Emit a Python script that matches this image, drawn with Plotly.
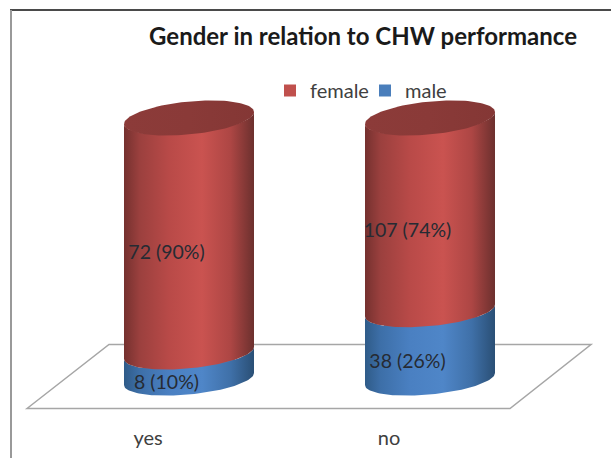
import numpy as np
import plotly.graph_objects as go

# Data
categories = ["yes", "no"]
female_counts = [72, 107]
male_counts = [8, 38]
series_names = ["female", "male"]

# Derived percentages
totals = [f + m for f, m in zip(female_counts, male_counts)]
female_pct = [100 * f / t for f, t in zip(female_counts, totals)]
male_pct = [100 * m / t for m, t in zip(male_counts, totals)]

# Layout constants
W, H = 611, 458
MB = 38
PX_PER_X = 241.0
PX_PER_Y = 2.61
ORIGIN_X = 189.0
ORIGIN_Y = 379.0
positions = [0, 1]
HALF_W = 65 / PX_PER_X
ELL_B = 15.5 / PX_PER_Y
ELL_TILT = 6 / PX_PER_Y
TICK_OFFSET = -41 / PX_PER_X
LABEL_X_OFFSET = -22.5 / PX_PER_X
LABEL_Y_OFFSET = -7


def dx(px):
    return (px - ORIGIN_X) / PX_PER_X


def dy(py):
    return (ORIGIN_Y - py) / PX_PER_Y


RED_GRAD = [[0, "#75312f"], [0.12, "#9b403e"], [0.35, "#b94a48"], [0.6, "#ca5350"],
            [0.82, "#ad4644"], [1, "#6c302e"]]
BLUE_GRAD = [[0, "#2f5b88"], [0.12, "#3d6fa8"], [0.35, "#4a80c2"], [0.6, "#4f86c8"],
             [0.82, "#3f70a8"], [1, "#2a4f75"]]
TOP_GRAD = [[0, "#8c3b39"], [0.5, "#8a3a38"], [1, "#843735"]]


def ellipse(cx, yc, n=120):
    t = np.linspace(0, 2 * np.pi, n)
    x = cx + HALF_W * np.cos(t)
    y = yc + (ELL_B + 1 / PX_PER_Y) * np.sin(t) + ELL_TILT * np.cos(t)
    return x, y


def arc(cx, yc, n=60):
    # front of the tilted ellipse, from left to right
    t = np.linspace(np.pi, 2 * np.pi, n)
    x = cx + HALF_W * np.cos(t)
    y = yc + ELL_B * np.sin(t) + ELL_TILT * np.cos(t)
    return x, y


def segment(cx, low, high, grad):
    xl, yl = arc(cx, low)
    xh, yh = arc(cx, high)
    xs = np.concatenate([xl, xh[::-1], xl[:1]])
    ys = np.concatenate([yl, yh[::-1], yl[:1]])
    return go.Scatter(
        x=xs, y=ys, mode="lines", line=dict(width=0), fill="toself",
        fillgradient=dict(type="horizontal", colorscale=grad),
        showlegend=False, hoverinfo="skip",
    )


fig = go.Figure()

# Stacked bars carry the data and the legend; the cylinder faces sit over them
fig.add_trace(go.Bar(x=positions, y=male_pct, name=series_names[1], width=0.38,
                     marker=dict(color="#4a7ebb", line=dict(width=0))))
fig.add_trace(go.Bar(x=positions, y=female_pct, name=series_names[0], width=0.38,
                     marker=dict(color="#c0504d", line=dict(width=0))))

for p, m, f in zip(positions, male_pct, female_pct):
    fig.add_trace(segment(p, 0, m, BLUE_GRAD))
    fig.add_trace(segment(p, m, m + f, RED_GRAD))
    ex, ey = ellipse(p, m + f)
    fig.add_trace(go.Scatter(x=ex, y=ey, mode="lines", line=dict(width=0), fill="toself",
                             fillgradient=dict(type="horizontal", colorscale=TOP_GRAD),
                             showlegend=False, hoverinfo="skip"))

# Data labels
lx, ly, lt = [], [], []
for p, m, f, mc, fc in zip(positions, male_pct, female_pct, male_counts, female_counts):
    lx += [p + LABEL_X_OFFSET, p + LABEL_X_OFFSET]
    ly += [m + f / 2 + LABEL_Y_OFFSET, m / 2 + LABEL_Y_OFFSET]
    lt += [f"{fc} ({f:.0f}%)", f"{mc} ({m:.0f}%)"]
fig.add_trace(go.Scatter(x=lx, y=ly, text=lt, mode="text", textposition="middle center",
                         textfont=dict(family="Lato", size=19.5, color="#262b33"),
                         showlegend=False, hoverinfo="skip"))

floor_path = (f"M {dx(27)} {dy(408.5)} L {dx(109)} {dy(344.5)} L {dx(591)} {dy(344.5)} "
              f"L {dx(510)} {dy(408.5)} Z")
shapes = [
    dict(type="path", path=floor_path, xref="x", yref="y", layer="below",
         line=dict(color="#a6a6a6", width=1.5), fillcolor="white"),
    dict(type="line", xref="paper", yref="paper", x0=10 / W, x1=1,
         y0=1 - 10 / (H - MB), y1=1 - 10 / (H - MB), line=dict(color="#4a4a4a", width=2)),
    dict(type="line", xref="paper", yref="paper", x0=11 / W, x1=11 / W,
         y0=1 - 10 / (H - MB), y1=-MB / (H - MB), line=dict(color="#999999", width=2)),
]

fig.update_layout(
    width=W, height=H, barmode="stack", paper_bgcolor="white", plot_bgcolor="rgba(0,0,0,0)",
    margin=dict(l=0, r=0, t=0, b=MB, autoexpand=False),
    title=dict(text="<b>Gender in relation to CHW performance</b>", x=363 / W, y=1 - 37 / H,
               xanchor="center", yanchor="middle",
               font=dict(family="Lato", size=24, color="#1a1a1a")),
    legend=dict(orientation="h", x=270 / W, y=1 - 71 / (H - MB), xanchor="left", yanchor="top",
                traceorder="reversed", font=dict(family="Lato", size=20, color="#404040"),
                entrywidth=50, entrywidthmode="pixels",
                bgcolor="rgba(0,0,0,0)"),
    xaxis=dict(range=[dx(0), dx(W)], showgrid=False, zeroline=False, showline=False,
               tickmode="array", tickvals=[p + TICK_OFFSET for p in positions],
               ticktext=categories, ticks="", fixedrange=True, ticklabelstandoff=4,
               tickfont=dict(family="Lato", size=20, color="#404040")),
    yaxis=dict(range=[dy(H - MB), dy(0)], showgrid=False, zeroline=False, showline=False,
               showticklabels=False, ticks="", fixedrange=True),
    shapes=shapes, showlegend=True,
)

fig.write_html("out.html", config={"displayModeBar": False},
               post_script="document.documentElement.style.margin='0';"
                           "document.body.style.margin='0';")
